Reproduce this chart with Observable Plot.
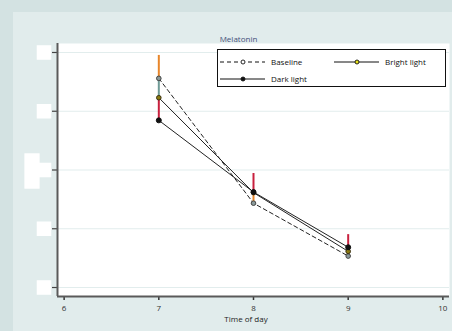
<!DOCTYPE html>
<html>
<head>
<meta charset="utf-8">
<script src="https://cdn.jsdelivr.net/npm/d3@7"></script>
<script src="https://cdn.jsdelivr.net/npm/@observablehq/plot@0.6"></script>
<style>
  html, body { margin: 0; padding: 0; }
  body { width: 452px; height: 331px; background: #d3e2e2; position: relative; overflow: hidden; font-family: "Open Sans", sans-serif; }
  #panel { position: absolute; left: 13px; top: 12px; right: 0; bottom: 0; background: #e1ecec; }
  #chart { position: absolute; left: 0; top: 0; }
  #legend { position: absolute; left: 217px; top: 49px; }
</style>
</head>
<body>
<div id="panel"></div>
<div id="chart"></div>
<div id="legend"></div>
<script>
// ---- data ----
const times = [7, 8, 9];
const seriesNames = ["Baseline", "Bright light", "Dark light"];
const baseline = [71.2, 28.7, 10.7];
const bright = [64.6, 32.3, 12.3];
const dark = [56.9, 32.5, 13.7];
// upper error spikes
const baselineHi = [79.0, 32.5, 12.3];
const brightHi = [71.2, 32.5, 13.7];
const darkHi = [64.6, 38.8, 18.0];
const xTicks = [6, 7, 8, 9, 10];
const yTicks = [0, 20, 40, 60, 80];
const xDomain = [5.93, 10.07];
const yDomain = [-3.06, 83.06];
const titleText = "Melatonin";
const xLabel = "Time of day";

const rows = [];
const spikes = [];
const vals = [baseline, bright, dark];
const his = [baselineHi, brightHi, darkHi];
const spikeColors = ["#e8862a", "#6f9a96", "#c8203e"];
seriesNames.forEach((s, k) => {
  times.forEach((t, i) => {
    rows.push({series: s, t, v: vals[k][i]});
    spikes.push({series: s, t, lo: vals[k][i], hi: his[k][i], color: spikeColors[k]});
  });
});
const byS = s => rows.filter(d => d.series === s);

const vbox = {
  draw(context, size) {
    const s = Math.sqrt(size);
    const w = s * 0.43;
    context.rect(-w / 2, -s / 2, w, s);
  }
};

const chart = Plot.plot({
  width: 452,
  height: 331,
  marginLeft: 57,
  marginRight: 3,
  marginTop: 43,
  marginBottom: 35,
  style: {background: "transparent", fontFamily: "Open Sans", fontSize: "8px"},
  x: {domain: xDomain, axis: null},
  y: {domain: yDomain, axis: null},
  marks: [
    Plot.frame({fill: "white", stroke: null}),
    Plot.gridY(yTicks, {stroke: "#e2eded", strokeOpacity: 1, strokeWidth: 1.2}),
    Plot.axisY({ticks: yTicks, tickSize: 5, tickFormat: () => "", color: "#444", strokeWidth: 1.2}),
    Plot.dot(yTicks, {y: d => d, frameAnchor: "left", dx: -13.5, symbol: "square", r: 8.2, fill: "white", stroke: null}),
    Plot.dot([0], {frameAnchor: "left", dx: -25.5, dy: 1, symbol: vbox, r: 20, fill: "white", stroke: null}),
    Plot.text(yTicks, {y: d => d, frameAnchor: "left", dx: -8, textAnchor: "end", fill: "white", text: d => String(d)}),
    Plot.axisX({ticks: xTicks, tickFormat: d => String(d), tickSize: 4, tickPadding: 5, color: "#333", strokeWidth: 1.5, label: null, fontSize: 8}),
    Plot.ruleX([xDomain[0]], {stroke: "#5a5a5a", strokeWidth: 2}),
    Plot.ruleY([yDomain[0]], {stroke: "#5a5a5a", strokeWidth: 2}),
    Plot.ruleX(spikes, {x: "t", y1: "lo", y2: "hi", stroke: "color", strokeWidth: 2}),
    Plot.line(byS("Baseline"), {x: "t", y: "v", stroke: "#222", strokeWidth: 1, strokeDasharray: "4,3"}),
    Plot.line(byS("Bright light"), {x: "t", y: "v", stroke: "#222", strokeWidth: 1}),
    Plot.line(byS("Dark light"), {x: "t", y: "v", stroke: "#222", strokeWidth: 1}),
    Plot.dot(byS("Baseline"), {x: "t", y: "v", r: 2.3, fill: "#8a9a9a", stroke: "#444", strokeWidth: 1}),
    Plot.dot(byS("Bright light"), {x: "t", y: "v", r: 2.3, fill: "#8a7a10", stroke: "#3a3010", strokeWidth: 1}),
    Plot.dot(byS("Dark light"), {x: "t", y: "v", r: 2.5, fill: "#111", stroke: "#111", strokeWidth: 1}),
    Plot.text([titleText], {frameAnchor: "top", dx: -15, dy: -7, fill: "#44507a", fontSize: 8}),
    Plot.text([xLabel], {frameAnchor: "bottom", dx: -7.5, dy: 25, fill: "#222", fontSize: 8})
  ]
});
document.getElementById("chart").appendChild(chart);

// ---- legend ----
const legendItems = [
  {name: seriesNames[0], x: 0, y: 13, dash: "4,3", fill: "white", stroke: "#111"},
  {name: seriesNames[1], x: 114, y: 13, dash: null, fill: "#e6e01a", stroke: "#111"},
  {name: seriesNames[2], x: 0, y: 30, dash: null, fill: "#111", stroke: "#111"}
];
const lw = 229, lh = 38;
const lsvg = d3.select("#legend").append("svg")
  .attr("width", lw).attr("height", lh)
  .style("font-family", "Open Sans").style("font-size", "8px");
lsvg.append("rect").attr("x", 0.5).attr("y", 0.5).attr("width", lw - 1).attr("height", lh - 1)
  .attr("fill", "white").attr("stroke", "#111").attr("stroke-width", 1);
legendItems.forEach(it => {
  const g = lsvg.append("g").attr("transform", `translate(${it.x},${it.y})`);
  g.append("line").attr("x1", 3).attr("x2", 48).attr("y1", 0).attr("y2", 0)
    .attr("stroke", "#111").attr("stroke-width", 1).attr("stroke-dasharray", it.dash);
  g.append("circle").attr("cx", 26).attr("cy", 0).attr("r", 2).attr("fill", it.fill)
    .attr("stroke", it.stroke).attr("stroke-width", 0.9);
  g.append("text").attr("x", 54).attr("y", 0).attr("dy", "0.35em").attr("fill", "#111").text(it.name);
});
</script>
</body>
</html>
